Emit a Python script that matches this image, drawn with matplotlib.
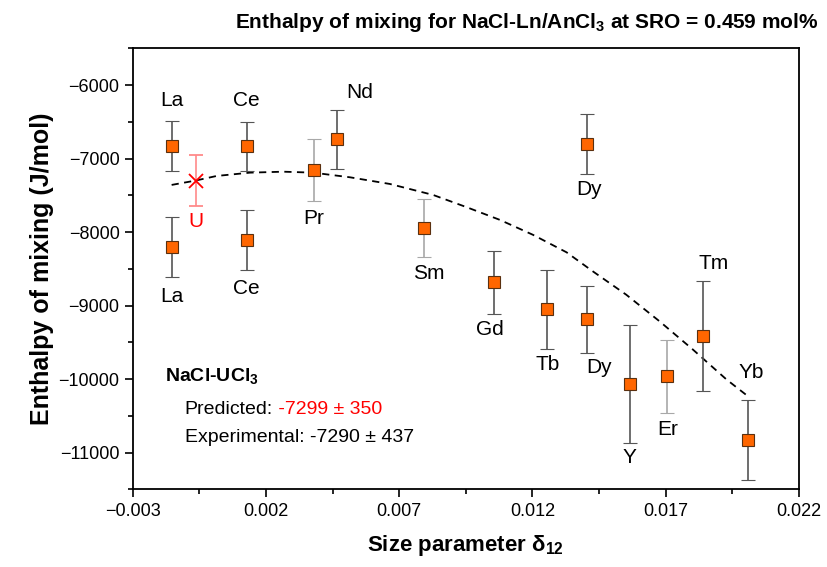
import matplotlib
matplotlib.use("Agg")
import matplotlib.pyplot as plt
from matplotlib.ticker import MultipleLocator

# measured points: element, delta12, enthalpy (J/mol), error bar
elements = ["La", "La", "Ce", "Ce", "Pr", "Nd", "Sm", "Gd", "Tb", "Dy", "Dy", "Y", "Er", "Tm", "Yb"]
delta12 = [-0.00152, -0.00152, 0.00128, 0.00128, 0.0038, 0.00467, 0.00792, 0.01057,
           0.01256, 0.01406, 0.01406, 0.01567, 0.01704, 0.01842, 0.0201]
enthalpy = [-6824, -8203, -6832, -8108, -7154, -6737, -7941, -8684,
            -9050, -6801, -9186, -10063, -9964, -9416, -10828]
errors = [337, 410, 337, 403, 425, 400, 398, 430, 540, 405, 455, 800, 500, 750, 540]
label_y = [-6204, -8873, -6204, -8769, -7810, -6099, -8556, -9326,
           -9801, -7425, -9842, -11067, -10683, -8421, -9905]
label_x = [-0.00152, -0.00152, 0.00128, 0.00128, 0.0038, 0.0055, 0.0081, 0.0104,
           0.01256, 0.01412, 0.0145, 0.01565, 0.01706, 0.0188, 0.0202]
light_err = ["Pr", "Sm", "Er"]

# NaCl-UCl3 prediction
u_x = -0.00064
u_y = -7299
u_err = 350

# dashed trend line
trend_x = [-0.00154, -0.00066, 0.00015, 0.0014, 0.00265, 0.00377, 0.00515, 0.00665,
           0.00827, 0.00953, 0.01078, 0.01202, 0.01328, 0.01427, 0.01552, 0.01677,
           0.01802, 0.01928, 0.02008]
trend_y = [-7357, -7299, -7235, -7190, -7177, -7190, -7253, -7344,
           -7493, -7660, -7833, -8036, -8274, -8534, -8851, -9213,
           -9597, -10004, -10231]

plt.rcParams["font.family"] = ["Liberation Sans", "DejaVu Sans"]

fig = plt.figure(figsize=(8.27, 5.67), dpi=100)
ax = fig.add_axes([0.1605, 0.137, 0.8055, 0.7775])

ax.plot(trend_x, trend_y, color="black", ls=(0, (4, 3)), lw=1.3, zorder=2)

for i, el in enumerate(elements):
    ecol = "#a8a8a8" if el in light_err else "#555555"
    ax.errorbar(delta12[i], enthalpy[i], yerr=errors[i], fmt="s", ms=8,
                mfc="#ff6600", mec="#5a3010", mew=0.8, ecolor=ecol,
                elinewidth=1.2, capsize=5, capthick=1.0, zorder=3)
    ax.text(label_x[i], label_y[i], el, ha="center", va="center", fontsize=15)

ax.errorbar(u_x, u_y, yerr=u_err, fmt="x", ms=10, color="red", mew=1.3,
            ecolor="#ff8a8a", elinewidth=1.2, capsize=5, capthick=1.0, zorder=4)
ax.text(u_x, -7856, "U", color="red", ha="center", va="center", fontsize=15)

ax.text(-0.0018, -9960, "NaCl-UCl$\\mathregular{_3}$", fontsize=14, fontweight="bold",
        ha="left", va="center")
pred = ax.text(-0.00105, -10410, "Predicted:", fontsize=14, ha="left", va="center")
ax.annotate(" -7299 ± 350", xy=(1, 0), xycoords=pred, fontsize=14, color="red",
            ha="left", va="bottom")
ax.text(-0.00105, -10790, "Experimental: -7290 ± 437", fontsize=14, ha="left", va="center")

ax.set_xlim(-0.003, 0.022)
ax.set_ylim(-11500, -5500)
ax.set_xticks([-0.003, 0.002, 0.007, 0.012, 0.017, 0.022])
ax.set_xticklabels(["\u22120.003", "0.002", "0.007", "0.012", "0.017", "0.022"])
ax.set_xticks([-0.0005, 0.0045, 0.0095, 0.0145, 0.0195], minor=True)
ax.yaxis.set_major_locator(MultipleLocator(1000))
ax.yaxis.set_minor_locator(MultipleLocator(500))
ax.tick_params(which="major", direction="out", length=6, width=1.2, labelsize=13)
ax.tick_params(which="minor", direction="out", length=3.5, width=1.2)
for s in ax.spines.values():
    s.set_linewidth(1.3)

ax.set_ylabel("Enthalpy of mixing (J/mol)", fontsize=18, fontweight="bold", labelpad=3)
ax.set_xlabel("Size parameter δ$\\mathregular{_{12}}$", fontsize=16,
              fontweight="bold", labelpad=10)
fig.text(0.637, 0.961, "Enthalpy of mixing for NaCl-Ln/AnCl$\\mathregular{_3}$ at SRO = 0.459 mol%",
         fontsize=15, fontweight="bold", ha="center", va="center")

fig.savefig("out.png", dpi=100)
